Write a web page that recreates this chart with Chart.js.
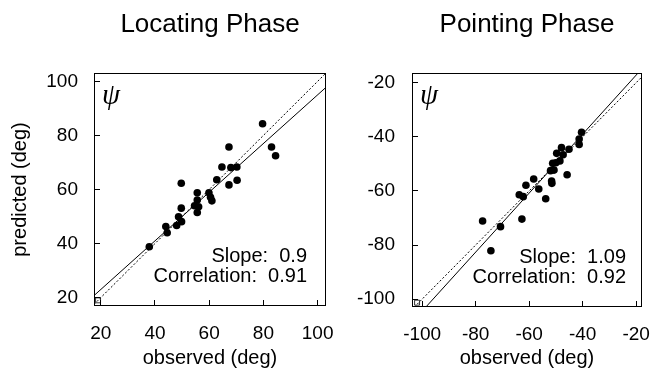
<!DOCTYPE html>
<html>
<head>
<meta charset="utf-8">
<script src="https://cdn.jsdelivr.net/npm/chart.js@4.4.1/dist/chart.umd.min.js"></script>
<style>
  body { margin: 0; background: #fff; }
  #wrap { position: relative; width: 660px; height: 373px; }
  canvas { position: absolute; top: 0; }
</style>
</head>
<body>
<div id="wrap">
  <canvas id="locating" width="335" height="373" style="left:0"></canvas>
  <canvas id="pointing" width="325" height="373" style="left:335px"></canvas>
</div>
<script>
// ===== Data =====

// Locating phase: observed vs predicted (deg)
const locObserved  = [79.7, 67.3, 83.0, 84.5, 64.7, 68.0, 70.2, 62.8, 70.3, 67.3, 49.7, 55.6, 59.9,
                      60.5, 61.0, 55.6, 54.6, 56.1, 55.6, 49.7, 48.7, 49.8, 48.0, 44.0, 44.5, 37.9];
const locPredicted = [84.3, 75.7, 75.7, 72.5, 68.3, 68.1, 68.3, 63.6, 63.4, 61.7, 62.3, 58.8, 58.8,
                      57.1, 55.8, 56.1, 54.0, 53.6, 51.5, 53.1, 49.9, 48.1, 46.7, 46.3, 44.0, 38.8];

// Pointing phase
const pntObserved  = [-40.4, -41.3, -41.3, -47.9, -45.1, -49.7, -47.3, -48.5, -50.0, -51.2, -50.7, -52.0, -45.8,
                      -58.3, -51.6, -51.5, -61.2, -56.4, -63.7, -62.2, -53.8, -77.4, -62.7, -70.7, -74.3];
const pntPredicted = [-38.3, -40.8, -42.8, -44.0, -44.6, -46.1, -46.6, -48.9, -49.6, -49.8, -52.3, -52.5, -54.0,
                      -55.6, -56.3, -57.2, -57.9, -59.3, -61.4, -62.1, -62.9, -71.1, -70.4, -73.2, -82.1];

// regression lines (solid) and identity lines (dotted)
const locFitX = [17.5, 103.1];
const locFitY = [20.75, 97.8];
const pntFitX = [-98.6, -17.8];
const pntFitY = [-102.9, -14.8];
const locIdentity = [17.5, 103.1];
const pntIdentity = [-102.9, -17.8];

// small square in the lower-left corner
const locCorner = [19, 19];
const pntCorner = [-101.9, -101.3];

// axes
const locRangeX = [17.5, 103.1];
const locRangeY = [16.9, 103.1];
const pntRangeX = [-103.8, -17.8];
const pntRangeY = [-102.9, -16.4];
const locTicks = [20, 40, 60, 80, 100];
const pntTicks = [-100, -80, -60, -40, -20];

const locStats = ["Slope:  0.9", "Correlation:  0.91"];
const pntStats = ["Slope:  1.09", "Correlation:  0.92"];

// ===== Helpers =====

Chart.defaults.font.family = "'Liberation Sans', Arial, Helvetica, sans-serif";
Chart.defaults.color = "#000";

function toPoints(xs, ys) {
  return xs.map((x, i) => ({ x: x, y: ys[i] }));
}

// frame, psi symbol and stats text
const panelDecor = {
  id: "panelDecor",
  afterDraw(chart, args, opts) {
    const { ctx, chartArea: a } = chart;
    ctx.save();
    ctx.strokeStyle = "#000";
    ctx.lineWidth = 1;
    ctx.strokeRect(Math.round(a.left) + 0.5, Math.round(a.top) + 0.5,
                   Math.round(a.right - a.left) - 1, Math.round(a.bottom - a.top) - 1);

    ctx.fillStyle = "#000";
    ctx.font = "italic 29px 'Liberation Serif', 'DejaVu Serif', serif";
    ctx.textAlign = "left";
    ctx.textBaseline = "alphabetic";
    ctx.fillText("\u03C8", a.left + 8, a.top + 31);

    ctx.font = "20px 'Liberation Sans', Arial, sans-serif";
    ctx.textAlign = "right";
    ctx.fillText(opts.lines[0], a.right - opts.inset, a.bottom - 44);
    ctx.fillText(opts.lines[1], a.right - opts.inset, a.bottom - 24);
    ctx.restore();
  }
};

function makePanel(id, p) {
  const ctx = document.getElementById(id).getContext("2d");
  return new Chart(ctx, {
    type: "scatter",
    data: {
      datasets: [
        {
          data: toPoints(p.obs, p.pred),
          backgroundColor: "#000",
          borderWidth: 0,
          pointRadius: 3.8
        },
        {
          data: toPoints(p.fitX, p.fitY),
          showLine: true,
          borderColor: "#000",
          borderWidth: 1,
          pointRadius: 0
        },
        {
          data: toPoints(p.identity, p.identity),
          showLine: true,
          borderColor: "#000",
          borderWidth: 1,
          borderDash: [2, 2],
          pointRadius: 0
        },
        {
          data: [{ x: p.corner[0], y: p.corner[1] }],
          pointStyle: "rect",
          pointRadius: 3.5,
          backgroundColor: "rgba(0,0,0,0)",
          borderColor: "#000",
          borderWidth: 0.8
        }
      ]
    },
    options: {
      responsive: false,
      animation: false,
      events: [],
      layout: { padding: { left: 0, right: p.padRight, top: 0, bottom: 0 } },
      plugins: {
        legend: { display: false },
        tooltip: { enabled: false },
        title: {
          display: true,
          text: p.title,
          fullSize: false,
          color: "#000",
          font: { size: 26, weight: "normal" },
          padding: { top: 9, bottom: 32.8 }
        },
        panelDecor: { lines: p.stats, inset: p.inset }
      },
      scales: {
        x: {
          type: "linear",
          min: p.rangeX[0],
          max: p.rangeX[1],
          afterBuildTicks: s => { s.ticks = p.ticks.map(v => ({ value: v })); },
          afterFit: s => {
            s.height = 373 - p.bottom;
            s.paddingLeft = 0;
            s.paddingRight = 0;
          },
          border: { display: false },
          grid: { drawOnChartArea: false, drawTicks: true, tickLength: -6, tickColor: "#000" },
          ticks: { color: "#000", font: { size: 19 }, padding: 22, maxRotation: 0 },
          title: {
            display: true, text: "observed (deg)", color: "#000",
            font: { size: 20 }, padding: { top: 0, bottom: 3 }
          }
        },
        y: {
          type: "linear",
          min: p.rangeY[0],
          max: p.rangeY[1],
          afterBuildTicks: s => { s.ticks = p.ticks.map(v => ({ value: v })); },
          afterFit: s => {
            s.width = p.left;
            s.paddingTop = 0;
            s.paddingBottom = 0;
          },
          border: { display: false },
          grid: { drawOnChartArea: false, drawTicks: true, tickLength: -6, tickColor: "#000" },
          ticks: { color: "#000", font: { size: 19 }, padding: p.labelGap + 6 },
          title: {
            display: p.yTitle, text: "predicted (deg)", color: "#000",
            font: { size: 20 }, padding: { top: 8, bottom: 0 }
          }
        }
      }
    },
    plugins: [panelDecor]
  });
}

// ===== Draw =====

makePanel("locating", {
  title: "Locating Phase",
  obs: locObserved, pred: locPredicted,
  fitX: locFitX, fitY: locFitY, identity: locIdentity, corner: locCorner,
  rangeX: locRangeX, rangeY: locRangeY, ticks: locTicks,
  stats: locStats, inset: 19,
  left: 94, padRight: 335 - 326, bottom: 306, labelGap: 16, yTitle: true
});

makePanel("pointing", {
  title: "Pointing Phase",
  obs: pntObserved, pred: pntPredicted,
  fitX: pntFitX, fitY: pntFitY, identity: pntIdentity, corner: pntCorner,
  rangeX: pntRangeX, rangeY: pntRangeY, ticks: pntTicks,
  stats: pntStats, inset: 16,
  left: 412 - 335, padRight: 325 - 307, bottom: 307, labelGap: 17, yTitle: false
});
</script>
</body>
</html>
